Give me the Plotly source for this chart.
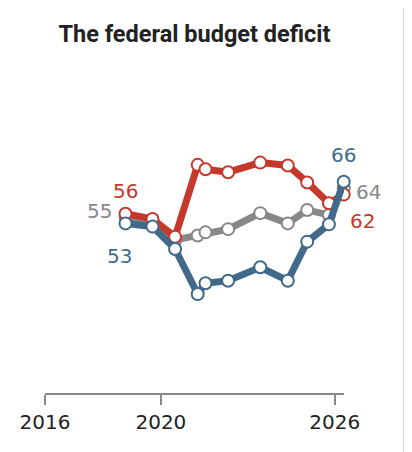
import plotly.graph_objects as go

# survey dates as decimal years
dates = [2018.78, 2019.71, 2020.49, 2021.27, 2021.54, 2022.32,
         2023.43, 2024.38, 2025.05, 2025.8, 2026.31]

# share saying the deficit is a top priority (%)
rep = [56, 54.4, 48.8, 71.3, 69.9, 69.0, 72.0, 71.1, 65.8, 59.3, 62]
total = [55, 53.6, 47.8, 49.2, 50.2, 51.2, 56.2, 53.0, 57.2, 55.6, 64]
dem = [53, 52.0, 45.0, 30.9, 34.3, 35.1, 39.3, 35.1, 47.3, 52.7, 66]

tick_years = [2016, 2020, 2026]

RED = "#c4392b"
GRAY = "#888888"
BLUE = "#41698a"
NUM_FONT = "DejaVu Sans"

fig = go.Figure()

# gray underneath, then red, blue on top
for vals, color in [(total, GRAY), (rep, RED), (dem, BLUE)]:
    fig.add_trace(go.Scatter(
        x=dates, y=vals,
        mode="lines+markers",
        line=dict(color=color, width=7),
        marker=dict(size=12, color="white", line=dict(color=color, width=2)),
        cliponaxis=False,
        hoverinfo="skip",
        showlegend=False,
    ))

# start / end value labels, offset from their points in pixels
labels = [
    (dates[0], rep[0], rep[0], RED, 0, 23),
    (dates[0], total[0], total[0], GRAY, -26, 6),
    (dates[0], dem[0], dem[0], BLUE, -6, -33),
    (dates[-1], dem[-1], dem[-1], BLUE, 0, 27),
    (dates[-1], total[-1], total[-1], GRAY, 25, -4),
    (dates[-1], rep[-1], rep[-1], RED, 19, -26),
]
for x, y, txt, color, dx, dy in labels:
    fig.add_annotation(
        x=x, y=y, text=str(txt), showarrow=False,
        xshift=dx, yshift=dy,
        font=dict(family=NUM_FONT, size=20, color=color),
    )

# thin border at the right edge of the panel
fig.add_shape(type="line", xref="paper", yref="paper",
              x0=1.2007, x1=1.2007, y0=-0.3, y1=1.6,
              line=dict(color="#dddddd", width=2))

# page body has an 8px margin, so the figure is 8px smaller than the window
fig.update_layout(
    width=404, height=444,
    margin=dict(l=34, r=68, t=129, b=59),
    paper_bgcolor="white",
    plot_bgcolor="white",
    title=dict(
        text="<b>The federal budget deficit</b>",
        x=0.5, xref="paper", xanchor="center",
        y=0.941, yanchor="middle",
        font=dict(family="Roboto", size=23.5, color="#222222"),
    ),
    xaxis=dict(
        range=[2016, 2026.32],
        tickvals=tick_years,
        ticktext=[str(t) for t in tick_years],
        showgrid=False, zeroline=False,
        showline=True, linecolor="#888888", linewidth=2,
        ticks="outside", ticklen=10, tickwidth=2, tickcolor="#888888",
        tickfont=dict(family=NUM_FONT, size=20, color="#222222"),
        fixedrange=True,
    ),
    yaxis=dict(
        range=[0, 80],
        visible=False,
        fixedrange=True,
    ),
)

fig.write_html("out.html")
